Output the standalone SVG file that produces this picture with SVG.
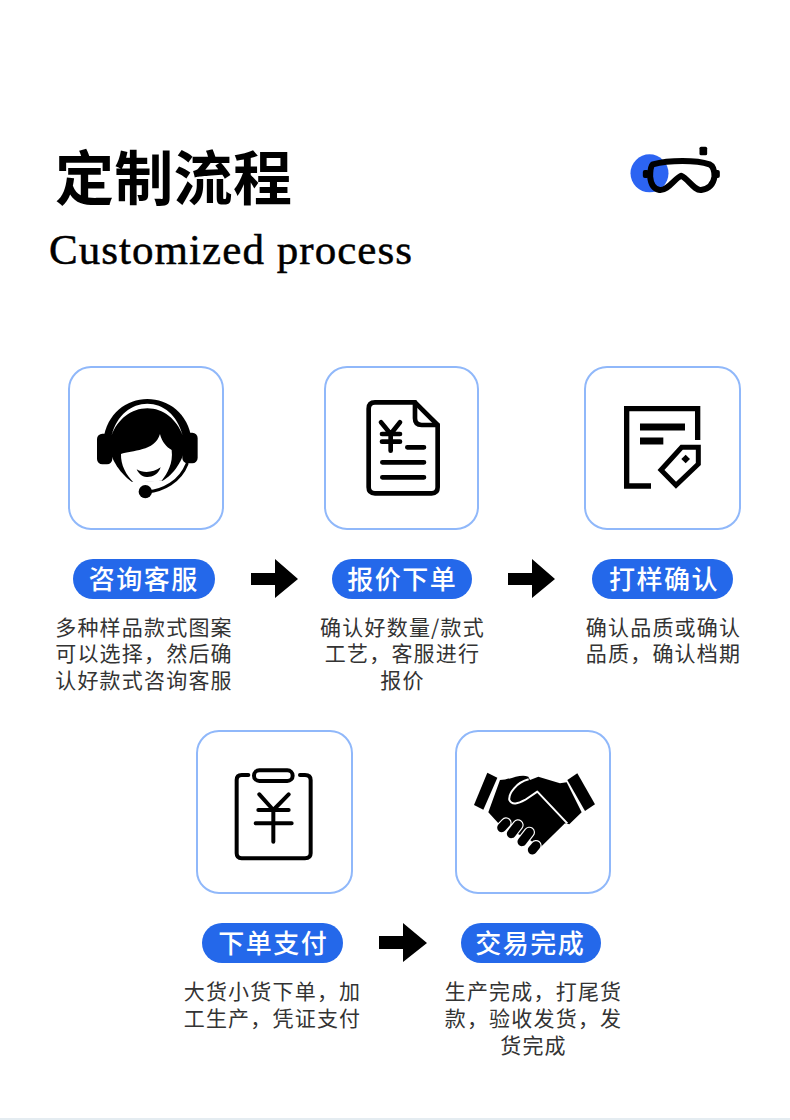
<svg xmlns="http://www.w3.org/2000/svg" width="790" height="1120" viewBox="0 0 790 1120">
<style>
.card{fill:#fff;stroke:#90b8fa;stroke-width:2}
.pill{fill:#2468ea}
.pt{font-family:"Noto Sans CJK SC","Noto Sans",sans-serif;font-size:26px;font-weight:500;fill:#fff;text-anchor:middle;letter-spacing:1.500px}
.d{font-family:"Noto Sans CJK SC","Noto Sans",sans-serif;font-size:21px;fill:#333;text-anchor:middle;letter-spacing:1.200px}
.i{fill:none;stroke:#000;stroke-linecap:round;stroke-linejoin:round}
.k{fill:#000}
.w{fill:#fff}
</style>
<rect width="790" height="1120" fill="#fff"/>
<rect y="1118" width="790" height="2" fill="#e4ecf1"/>
<g id="title">
<text x="55" y="200" font-family="'Noto Sans CJK SC',sans-serif" font-size="59px" font-weight="700" fill="#000" letter-spacing="0.3">定制流程</text>
<text x="49" y="264" font-family="'Liberation Serif',serif" font-size="43px" fill="#000" stroke="#000" stroke-width=".5" textLength="363">Customized process</text>
</g>
<g id="logo" transform="translate(619.500 135) scale(.3333)">
<circle cx="90" cy="115" r="57" fill="#2c64f2"/>
<path d="M100,88 C150,75 230,75 270,88 Q285,95 285,125 Q280,160 245,165 C225,168 205,130 185,122 C165,130 145,168 120,165 Q95,160 92,125 Q92,95 100,88Z" fill="none" stroke="#000" stroke-width="18" stroke-linejoin="round"/>
<rect x="70" y="105" width="18" height="24" rx="6" class="k"/>
<rect x="284" y="105" width="17" height="24" rx="6" class="k"/>
<rect x="240" y="35" width="23" height="26" rx="5" class="k"/>
</g>
<g id="node-1">
<rect class="card" x="69" y="367" width="154" height="162" rx="22"/>
<g transform="translate(60 360) scale(.3333)">
<path class="k" d="M130,240 C140,160 200,117 262,117 C325,117 385,160 395,240 Z"/>
<rect class="k" x="111" y="221" width="46" height="92" rx="16"/>
<rect class="k" x="367" y="218" width="46" height="92" rx="16"/>
<path class="k" d="M146,250 C150,180 205,140 262,140 C320,140 372,180 378,250 C372,300 340,345 308,362 L215,365 C185,345 150,300 146,250Z"/>
<path class="w" d="M155,226 C170,165 215,131 262,131 C310,131 352,165 368,226 C350,178 310,145 262,145 C215,145 172,178 155,226Z"/>
<path class="w" d="M183,282 C215,270 285,275 300,222 C305,245 320,262 335,270 C340,310 322,340 305,362 L222,368 C198,345 182,315 183,282Z"/>
<path class="k" d="M230,328 C250,340 280,338 302,322 C295,345 275,352 260,351 C245,350 235,340 230,328Z"/>
<path class="i" d="M262,396 C310,392 360,365 381,312" stroke-width="9"/>
<circle class="k" cx="256" cy="395" r="20"/>
</g>
</g>
<g id="node-2">
<rect class="card" x="325" y="367" width="153" height="162" rx="22"/>
<g class="i" stroke-width="14" transform="translate(320 360) scale(.3333)">
<path d="M285,127 H165 Q146,127 146,146 V382 Q146,400 165,400 H335 Q353,400 353,382 V195 Z"/>
<path d="M285,127 V175 Q285,195 305,195 H353"/>
<path d="M183,187 L212,222 L240,187 M186,222 H240 M186,245 H240 M212,222 V272 M262,262 H312 M187,307 H312 M187,352 H312"/>
</g>
</g>
<g id="node-3">
<rect class="card" x="585" y="367" width="155" height="162" rx="22"/>
<g transform="translate(580 360) scale(.3333)" fill="none" stroke="#000" stroke-width="16">
<path d="M213,378 H140 V146 H353 V240"/>
<path d="M180,201 H315" stroke-width="21"/>
<path d="M180,243 H250" stroke-width="21"/>
<path d="M243,330 L305,262 H355 V312 L288,376 Z" stroke-width="15"/>
<path d="M317,284 L330,297 L317,310 L304,297Z" fill="#000" stroke="none"/>
</g>
</g>
<g id="node-4">
<rect class="card" x="197" y="731" width="155" height="162" rx="22"/>
<g class="i" stroke-width="12" transform="translate(190 725) scale(.3333)">
<rect x="192" y="136" width="116" height="32" rx="16"/>
<path d="M175,150 H155 Q140,150 140,165 V385 Q140,400 155,400 H345 Q362,400 362,385 V165 Q362,150 345,150 H330"/>
<path d="M208,208 L250,255 L296,208 M205,255 H296 M197,295 H305 M250,255 V350"/>
</g>
</g>
<g id="node-5">
<rect class="card" x="456" y="731" width="154" height="162" rx="22"/>
<g transform="translate(450 725) scale(.3333)">
<path class="k" d="M112,143 L142,158 L100,254 L72,240Z"/>
<path class="k" d="M382,145 L435,238 L405,258 L352,165Z"/>
<path class="k" d="M150,165 C180,165 210,145 235,155 L240,165 L265,155 L330,175 L350,172 L395,262 L358,298 L345,295 L270,368 L240,345 L150,300 L115,262Z"/>
<path d="M236,163 C200,172 175,205 178,225 C185,242 205,236 225,225 L262,200 L352,295" fill="none" stroke="#fff" stroke-width="6" stroke-linejoin="round"/>
<g fill="none" stroke="#fff" stroke-width="34" stroke-linecap="round">
<path d="M155,308 L168,294 M184,326 L204,300 M216,350 L238,322 M247,375 L258,362"/>
</g>
<g fill="none" stroke="#000" stroke-width="27" stroke-linecap="round">
<path d="M155,308 L168,294 M184,326 L204,300 M216,350 L238,322 M247,375 L258,362"/>
</g>
</g>
</g>
<g id="label-1"><rect class="pill" x="73" y="559" width="142" height="40" rx="20"/><text class="pt" x="143.700" y="589">咨询客服</text></g>
<g id="label-2"><rect class="pill" x="332" y="559" width="140" height="40" rx="20"/><text class="pt" x="402.200" y="589">报价下单</text></g>
<g id="label-3"><rect class="pill" x="592" y="559" width="141" height="40" rx="20"/><text class="pt" x="664" y="589">打样确认</text></g>
<g id="label-4"><rect class="pill" x="202" y="923" width="141" height="40" rx="20"/><text class="pt" x="273.200" y="953">下单支付</text></g>
<g id="label-5"><rect class="pill" x="461" y="923" width="140" height="40" rx="20"/><text class="pt" x="530.200" y="953">交易完成</text></g>
<g id="desc-1">
<text class="d" x="144" y="635">多种样品款式图案</text>
<text class="d" x="144" y="661">可以选择，然后确</text>
<text class="d" x="144" y="688">认好款式咨询客服</text>
</g>
<g id="desc-2">
<text class="d" x="402.500" y="635">确认好数量/款式</text>
<text class="d" x="402.500" y="661">工艺，客服进行</text>
<text class="d" x="402.500" y="688">报价</text>
</g>
<g id="desc-3">
<text class="d" x="663.500" y="635">确认品质或确认</text>
<text class="d" x="663.500" y="661">品质，确认档期</text>
</g>
<g id="desc-4">
<text class="d" x="272.500" y="999">大货小货下单，加</text>
<text class="d" x="272.500" y="1026">工生产，凭证支付</text>
</g>
<g id="desc-5">
<text class="d" x="533.500" y="999">生产完成，打尾货</text>
<text class="d" x="533.500" y="1026">款，验收发货，发</text>
<text class="d" x="533.500" y="1053">货完成</text>
</g>
<g id="connectors" fill="#000">
<path d="M251,573 H275 V559 L298,579 L275,598 V585 H251Z"/>
<path d="M508,573 H532 V559 L555,579 L532,598 V585 H508Z"/>
<path d="M379,936 H403 V923 L427,943 L403,962 V949 H379Z"/>
</g>
</svg>
